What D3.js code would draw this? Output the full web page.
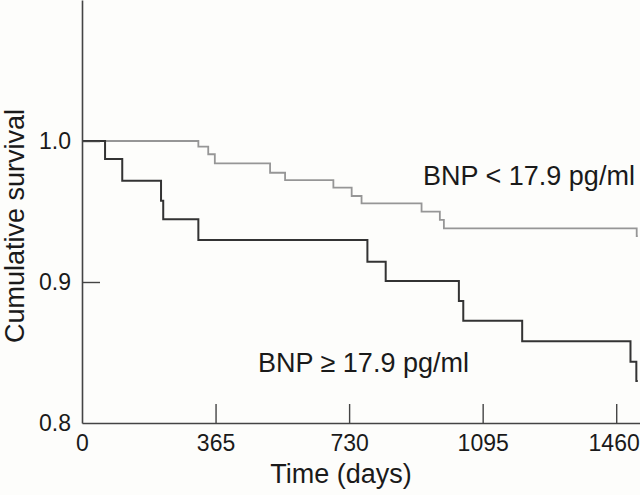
<!DOCTYPE html>
<html>
<head>
<meta charset="utf-8">
<script src="https://cdn.jsdelivr.net/npm/d3@7"></script>
<style>
  html, body { margin: 0; padding: 0; background: #fdfdfb; }
  svg { display: block; }
  text { font-family: "Liberation Sans", Arial, Helvetica, sans-serif; fill: #1a1a1a; }
</style>
</head>
<body>
<svg id="chart" width="640" height="495"></svg>
<script>
// ---- data ----
const xTickValues = [0, 365, 730, 1095, 1460];
const yTickValues = [0.8, 0.9, 1.0];
const endDay = 1519;

// BNP < 17.9 pg/ml (grey curve)
const lowDays   = [0, 318, 345, 363, 514, 555, 687, 737, 764, 928, 978, 989, 1516];
const lowSurv   = [1.0, 0.996, 0.9906, 0.9842, 0.9775, 0.9723, 0.9669, 0.961, 0.9558, 0.9499, 0.944, 0.9381, 0.9326];

// BNP >= 17.9 pg/ml (black curve)
const highDays  = [0, 63, 110, 216, 222, 318, 780, 830, 1030, 1042, 1203, 1499, 1515];
const highSurv  = [1.0, 0.9872, 0.9718, 0.9577, 0.9445, 0.9298, 0.9144, 0.9007, 0.8865, 0.8726, 0.8579, 0.8435, 0.8298];

const labelLow  = "BNP < 17.9 pg/ml";
const labelHigh = "BNP \u2265 17.9 pg/ml";
const xTitle = "Time (days)";
const yTitle = "Cumulative survival";

// ---- drawing ----
const svg = d3.select("#chart");
const x = d3.scaleLinear().domain([0, 1525]).range([82, 640]);
const y = d3.scaleLinear().domain([0.8, 1.1]).range([423, 0]);

function toPoints(days, surv) {
  const pts = days.map((d, i) => [d, surv[i]]);
  pts.push([endDay, surv[surv.length - 1]]);
  return pts;
}

const line = d3.line()
  .x(d => x(d[0]))
  .y(d => y(d[1]))
  .curve(d3.curveStepAfter);

svg.append("path")
  .attr("d", line(toPoints(lowDays, lowSurv)))
  .attr("fill", "none")
  .attr("stroke", "#969696")
  .attr("stroke-width", 1.8);

svg.append("path")
  .attr("d", line(toPoints(highDays, highSurv)))
  .attr("fill", "none")
  .attr("stroke", "#333")
  .attr("stroke-width", 2);

// axes
const xAxis = d3.axisBottom(x)
  .tickValues(xTickValues)
  .tickFormat(d3.format("d"))
  .tickSizeInner(-19)
  .tickSizeOuter(0)
  .tickPadding(12);

const yAxis = d3.axisLeft(y)
  .tickValues(yTickValues)
  .tickFormat(d3.format(".1f"))
  .tickSizeInner(-18)
  .tickSizeOuter(0)
  .tickPadding(11);

const gx = svg.append("g").attr("transform", "translate(0,423)").call(xAxis);
const gy = svg.append("g").attr("transform", "translate(82,0)").call(yAxis);

[gx, gy].forEach(g => {
  g.attr("font-size", 23).attr("font-family", "Liberation Sans, Arial, Helvetica, sans-serif");
  g.select(".domain").attr("stroke", "#444").attr("stroke-width", 1.6);
  g.selectAll(".tick line").attr("stroke", "#444").attr("stroke-width", 1.4);
  g.selectAll(".tick text")
    .style("font-size", "23px")
    .attr("fill", "#1a1a1a");
});
gx.selectAll(".tick").filter(d => d === 0).select("line").remove();
gy.selectAll(".tick").filter(d => d === 0.8).select("line").remove();
// keep the last x label inside the picture
gx.selectAll(".tick").filter(d => d === 1460).select("text")
  .attr("text-anchor", "end").attr("x", 23);

// axis titles
svg.append("text")
  .attr("x", 341).attr("y", 483)
  .attr("text-anchor", "middle")
  .style("font-size", "27px")
  .text(xTitle);

svg.append("text")
  .attr("transform", "translate(24,226) rotate(-90)")
  .attr("text-anchor", "middle")
  .style("font-size", "27px")
  .text(yTitle);

// curve labels
svg.append("text")
  .attr("x", 423).attr("y", 185)
  .style("font-size", "27px")
  .text(labelLow);

svg.append("text")
  .attr("x", 258).attr("y", 372)
  .style("font-size", "27px")
  .text(labelHigh);
</script>
</body>
</html>
